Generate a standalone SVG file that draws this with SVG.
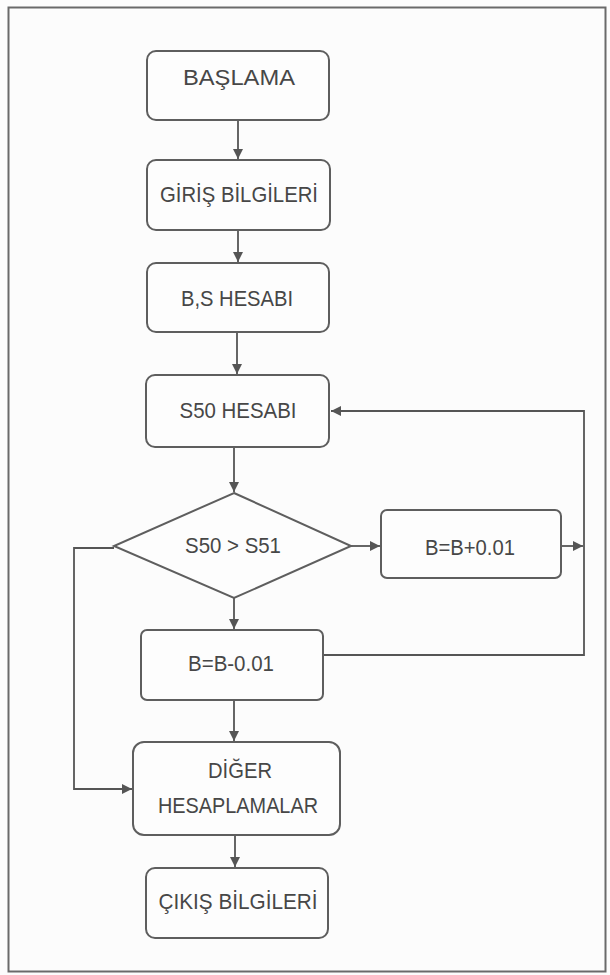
<svg xmlns="http://www.w3.org/2000/svg" width="610" height="975" viewBox="0 0 610 975">
<defs>
<style>
.box{fill:#fdfdfd;stroke:#5e5e5e;stroke-width:2}
.lbl{font-family:"Liberation Sans Narrow","Liberation Sans",Arial,sans-serif;font-size:22px;fill:#474747;text-anchor:middle}
.ln{fill:none;stroke:#555;stroke-width:1.8}
</style>
<marker id="ah" viewBox="0 0 10 10" refX="10" refY="5" markerWidth="11" markerHeight="10" markerUnits="userSpaceOnUse" orient="auto">
<path d="M0,0 L10,5 L0,10 Z" fill="#555"/>
</marker>
</defs>
<rect x="0" y="0" width="610" height="975" fill="#fcfcfc"/>
<rect x="8.5" y="7.5" width="597" height="964" fill="none" stroke="#6a6a6a" stroke-width="2"/>

<g id="connectors">
<line class="ln" x1="238" y1="120" x2="238" y2="159" marker-end="url(#ah)"/>
<line class="ln" x1="238" y1="230" x2="238" y2="262" marker-end="url(#ah)"/>
<line class="ln" x1="237" y1="332" x2="237" y2="374" marker-end="url(#ah)"/>
<line class="ln" x1="234" y1="447" x2="234" y2="492" marker-end="url(#ah)"/>
<line class="ln" x1="351" y1="546" x2="380" y2="546" marker-end="url(#ah)"/>
<line class="ln" x1="561" y1="546" x2="583" y2="546" marker-end="url(#ah)"/>
<polyline class="ln" points="323,655 584,655 584,411 331,411" marker-end="url(#ah)"/>
<line class="ln" x1="234" y1="598" x2="234" y2="629" marker-end="url(#ah)"/>
<polyline class="ln" points="114,548 74,548 74,789 132,789" marker-end="url(#ah)"/>
<line class="ln" x1="234" y1="700" x2="234" y2="741" marker-end="url(#ah)"/>
<line class="ln" x1="235" y1="835" x2="235" y2="867" marker-end="url(#ah)"/>
</g>

<g id="baslama">
<rect class="box" x="147" y="51" width="182" height="69" rx="9"/>
<text class="lbl" x="239" y="85" textLength="112" lengthAdjust="spacingAndGlyphs">BAŞLAMA</text>
</g>
<g id="giris">
<rect class="box" x="147" y="160" width="183" height="70" rx="9"/>
<text class="lbl" x="239" y="202" textLength="158" lengthAdjust="spacingAndGlyphs">GİRİŞ BİLGİLERİ</text>
</g>
<g id="bs-hesabi">
<rect class="box" x="147" y="263" width="182" height="69" rx="9"/>
<text class="lbl" x="237" y="306" textLength="112" lengthAdjust="spacingAndGlyphs">B,S HESABI</text>
</g>
<g id="s50-hesabi">
<rect class="box" x="146" y="375" width="183" height="72" rx="9"/>
<text class="lbl" x="238" y="418" textLength="117" lengthAdjust="spacingAndGlyphs">S50 HESABI</text>
</g>
<g id="karar">
<polygon class="box" points="234,493 351,546 234,598 114,546"/>
<text class="lbl" x="233" y="553" textLength="96" lengthAdjust="spacingAndGlyphs">S50 &gt; S51</text>
</g>
<g id="b-arti">
<rect class="box" x="381" y="510" width="180" height="68" rx="6"/>
<text class="lbl" x="470" y="555" textLength="90" lengthAdjust="spacingAndGlyphs">B=B+0.01</text>
</g>
<g id="b-eksi">
<rect class="box" x="141" y="630" width="182" height="70" rx="6"/>
<text class="lbl" x="231" y="671" textLength="86" lengthAdjust="spacingAndGlyphs">B=B-0.01</text>
</g>
<g id="diger">
<rect class="box" x="133" y="742" width="207" height="93" rx="11"/>
<text class="lbl" x="240" y="778" textLength="64" lengthAdjust="spacingAndGlyphs">DİĞER</text>
<text class="lbl" x="238" y="813" textLength="160" lengthAdjust="spacingAndGlyphs">HESAPLAMALAR</text>
</g>
<g id="cikis">
<rect class="box" x="146" y="868" width="182" height="70" rx="9"/>
<text class="lbl" x="238" y="909" textLength="159" lengthAdjust="spacingAndGlyphs">ÇIKIŞ BİLGİLERİ</text>
</g>
</svg>
